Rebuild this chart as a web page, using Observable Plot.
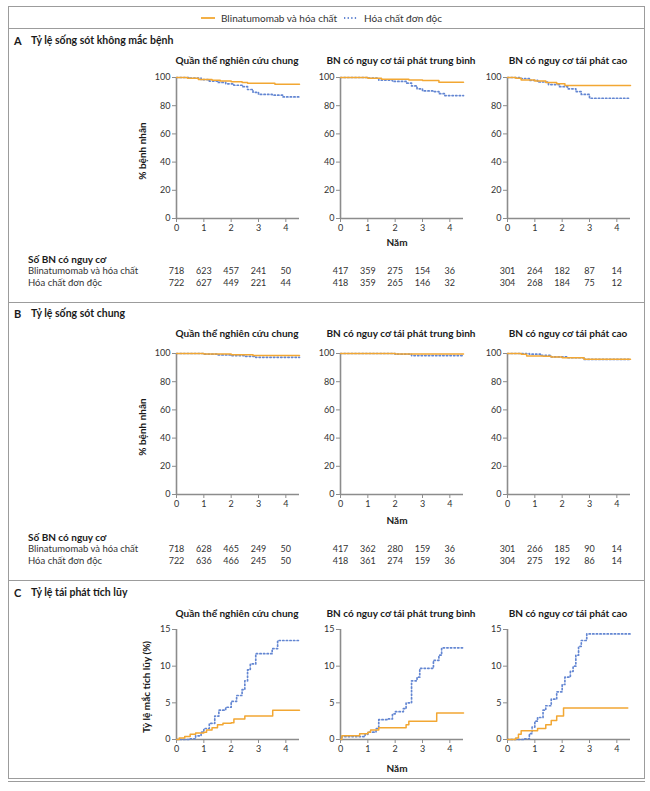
<!DOCTYPE html>
<html>
<head>
<meta charset="utf-8">
<script src="https://cdn.jsdelivr.net/npm/d3@7"></script>
<script src="https://cdn.jsdelivr.net/npm/@observablehq/plot@0.6"></script>
<style>
  body { margin: 0; background: #fff; }
  #root { position: relative; width: 650px; height: 791px; overflow: hidden;
          font-family: Lato, "Open Sans", sans-serif; color: #1a1a1a; }
  .abs { position: absolute; white-space: nowrap; line-height: 1; }
  .plotbox { position: absolute; }
  .line { position: absolute; background: #9c9c9c; }
</style>
</head>
<body>
<div id="root"></div>
<script>
// ---------------- DATA ----------------
const seriesNames = ["Blinatumomab và hóa chất", "Hóa chất đơn độc"];
const panelLetters = ["A", "B", "C"];
const panelTitles = ["Tỷ lệ sống sót không mắc bệnh", "Tỷ lệ sống sót chung", "Tỷ lệ tái phát tích lũy"];
const subgroupTitles = ["Quần thể nghiên cứu chung", "BN có nguy cơ tái phát trung bình", "BN có nguy cơ tái phát cao"];
const yLabelSurvival = "% bệnh nhân";
const yLabelIncidence = "Tỷ lệ mắc tích lũy (%)";
const xLabel = "Năm";
const riskHeader = "Số BN có nguy cơ";
const xTicks = [0, 1, 2, 3, 4];
const survivalTicks = [0, 20, 40, 60, 80, 100];
const incidenceTicks = [0, 5, 10, 15];
const riskYears = [0, 1, 2, 3, 4];

// Panel A: disease-free survival  [year, %]
const dfsAllBlina  = [[0,100],[0.4,99.5],[0.8,98.5],[1.3,98],[1.6,97.5],[2.0,97],[2.4,96.5],[2.6,96],[3.6,95.3],[4.5,95.3]];
const dfsAllChemo  = [[0,100],[0.5,99.5],[0.9,98.5],[1.2,97.5],[1.5,96.5],[1.8,95.5],[2.1,94.5],[2.4,93.5],[2.6,91.5],[2.8,89.5],[3.0,88],[3.5,87.5],[3.9,86.2],[4.5,86.2]];
const dfsIntBlina  = [[0,100],[1.0,99.5],[1.5,98.8],[2.5,98.3],[3.0,97.8],[3.6,96.7],[4.5,96.7]];
const dfsIntChemo  = [[0,100],[1.0,99.5],[1.4,98.2],[1.9,97.2],[2.4,96],[2.6,94],[2.8,92],[3.0,90.5],[3.4,90],[3.6,88.5],[3.8,87.2],[4.5,87.2]];
const dfsHighBlina = [[0,100],[0.3,99.5],[0.5,98.3],[1.0,97.5],[1.4,96.5],[1.8,95.5],[2.1,94.3],[4.5,94.3]];
const dfsHighChemo = [[0,100],[0.5,99.3],[0.8,98],[1.1,96.8],[1.5,95],[1.9,93.5],[2.2,92],[2.5,90],[2.7,88],[3.0,85.3],[4.5,85.3]];

// Panel B: overall survival  [year, %]
const osAllBlina   = [[0,100],[1.0,99.6],[2.0,99.1],[2.8,98.5],[4.5,98.5]];
const osAllChemo   = [[0,100],[1.0,99.5],[1.5,99],[2.0,98.5],[2.5,98],[2.9,97.3],[4.5,97.3]];
const osIntBlina   = [[0,100],[2.0,99.6],[4.5,99.6]];
const osIntChemo   = [[0,100],[2.0,99.5],[2.6,98.5],[4.5,98.5]];
const osHighBlina  = [[0,100],[0.5,99.5],[0.7,98.2],[1.3,98],[1.6,97.5],[2.0,97],[2.8,96],[4.5,96]];
const osHighChemo  = [[0,100],[0.8,99.5],[1.2,98.6],[1.6,97.6],[2.2,97],[2.8,95.8],[4.5,95.8]];

// Panel C: cumulative incidence of relapse  [year, %]
const ciAllBlina   = [[0,0],[0.1,0.2],[0.3,0.4],[0.5,0.7],[0.7,0.9],[1.0,1.0],[1.1,1.3],[1.3,1.6],[1.5,2.0],[1.7,2.2],[2.0,2.3],[2.1,2.8],[2.5,3.2],[3.5,3.2],[3.52,4.0],[4.5,4.0]];
const ciAllChemo   = [[0,0],[0.5,0.1],[0.7,0.5],[0.9,1.0],[1.0,1.5],[1.2,2.2],[1.4,3.2],[1.55,4.0],[1.8,4.4],[2.0,5.2],[2.2,6.0],[2.4,6.8],[2.5,8.0],[2.6,9.5],[2.7,10.3],[2.9,11.7],[3.4,11.7],[3.5,12.4],[3.7,13.5],[4.5,13.5]];
const ciIntBlina   = [[0,0],[0.05,0.5],[0.7,0.8],[1.0,1.0],[1.1,1.3],[1.4,1.6],[2.3,1.6],[2.4,2.0],[2.5,2.5],[3.5,2.5],[3.52,3.6],[4.5,3.6]];
const ciIntChemo   = [[0,0],[0.05,0.4],[0.9,0.7],[1.0,1.0],[1.3,1.5],[1.4,2.7],[1.7,2.8],[1.9,3.5],[2.0,3.8],[2.3,4.2],[2.4,5.0],[2.6,8.0],[2.8,8.5],[2.9,9.7],[3.3,9.7],[3.4,10.8],[3.6,11.5],[3.7,12.5],[4.5,12.5]];
const ciHighBlina  = [[0,0],[0.3,0.2],[0.4,0.7],[0.5,1.2],[1.0,1.2],[1.1,1.5],[1.4,2.0],[1.6,2.6],[1.8,3.2],[2.0,3.2],[2.05,4.3],[4.4,4.3]];
const ciHighChemo  = [[0,0],[0.6,0.1],[0.8,0.8],[0.9,1.7],[1.0,2.5],[1.1,3.0],[1.3,4.0],[1.4,4.6],[1.6,5.5],[1.8,6.5],[2.0,7.5],[2.1,8.5],[2.3,9.3],[2.4,10.0],[2.5,11.5],[2.6,12.7],[2.7,13.5],[2.9,14.4],[4.5,14.4]];

// Numbers at risk
const riskA_all_blina  = [718, 623, 457, 241, 50];
const riskA_all_chemo  = [722, 627, 449, 221, 44];
const riskA_int_blina  = [417, 359, 275, 154, 36];
const riskA_int_chemo  = [418, 359, 265, 146, 32];
const riskA_high_blina = [301, 264, 182, 87, 14];
const riskA_high_chemo = [304, 268, 184, 75, 12];
const riskB_all_blina  = [718, 628, 465, 249, 50];
const riskB_all_chemo  = [722, 636, 466, 245, 50];
const riskB_int_blina  = [417, 362, 280, 159, 36];
const riskB_int_chemo  = [418, 361, 274, 159, 36];
const riskB_high_blina = [301, 266, 185, 90, 14];
const riskB_high_chemo = [304, 275, 192, 86, 14];

// ---------------- STYLE ----------------
const ORANGE = "#f2a733";
const BLUE = "#6386d2";
const DOTS = "1.3 2.3";
const AXIS = "#8c8c8c";
const FONT = 'Lato, "Open Sans", sans-serif';
const root = document.getElementById("root");

function addText(s, x, y, {size = 10, weight = "normal", anchor = "start", rotate = false, color = "#1a1a1a"} = {}) {
  const d = document.createElement("div");
  d.className = "abs";
  d.textContent = s;
  d.style.fontSize = size + "px";
  d.style.fontWeight = weight;
  d.style.color = color;
  d.style.left = x + "px";
  d.style.top = y + "px";
  const tx = anchor === "middle" ? "-50%" : anchor === "end" ? "-100%" : "0";
  d.style.transform = `translate(${tx},-50%)` + (rotate ? " rotate(-90deg)" : "");
  root.appendChild(d);
}
function addLine(x, y, w, h) {
  const d = document.createElement("div");
  d.className = "line";
  Object.assign(d.style, {left: x + "px", top: y + "px", width: w + "px", height: h + "px"});
  root.appendChild(d);
}

// box frame
const BX0 = 8, BX1 = 644, BY0 = 6, BY1 = 778;
addLine(BX0, BY0, BX1 - BX0, 1.2);
addLine(BX0, BY1, BX1 - BX0 + 1, 1.2);
addLine(BX0, BY1 + 3, BX1 - BX0 + 1, 1);
addLine(BX0, BY0, 1.2, BY1 - BY0);
addLine(BX1, BY0, 1.2, BY1 - BY0);
addLine(BX0, 28, BX1 - BX0, 1.2);
addLine(BX0, 302, BX1 - BX0, 1.2);
addLine(BX0, 580, BX1 - BX0, 1.2);

// legend
(function legend() {
  const y = 18;
  const svgNS = "http://www.w3.org/2000/svg";
  function sw(x, color, dash) {
    const s = document.createElementNS(svgNS, "svg");
    s.setAttribute("width", 16); s.setAttribute("height", 6);
    s.style.position = "absolute"; s.style.left = x + "px"; s.style.top = (y - 3) + "px";
    const l = document.createElementNS(svgNS, "line");
    l.setAttribute("x1", 1); l.setAttribute("x2", 15); l.setAttribute("y1", 3); l.setAttribute("y2", 3);
    l.setAttribute("stroke", color); l.setAttribute("stroke-width", 1.8);
    if (dash) l.setAttribute("stroke-dasharray", dash);
    s.appendChild(l);
    root.appendChild(s);
  }
  sw(200, ORANGE, null);
  addText(seriesNames[0], 221, y, {size: 10, color: "#333"});
  sw(343, BLUE, DOTS);
  addText(seriesNames[1], 364, y, {size: 10, color: "#333"});
})();

// chart geometry
const AX = [176, 340, 507];
const PW = 123;
const ML = 30, MR = 8, MT = 6, MB = 22;

function kmChart(xAxis, yTop, yBot, yDomain, yTicks, blina, chemo) {
  const h = yBot - yTop;
  const p = Plot.plot({
    width: ML + PW + MR, height: MT + h + MB,
    marginLeft: ML, marginRight: MR, marginTop: MT, marginBottom: MB,
    style: {fontFamily: FONT, fontSize: "9px", color: "#333", background: "transparent", overflow: "visible"},
    x: {domain: [0, 4.5]},
    y: {domain: yDomain},
    marks: [
      Plot.ruleX([0], {stroke: AXIS, strokeWidth: 1.6}),
      Plot.ruleY([yDomain[0]], {stroke: AXIS, strokeWidth: 1.6}),
      Plot.axisY({ticks: yTicks, tickSize: 4, tickPadding: 2, stroke: AXIS, label: null}),
      Plot.axisX({ticks: xTicks, tickSize: 4, tickPadding: 2, stroke: AXIS, label: null, tickFormat: d => String(d)}),
      Plot.line(chemo, {x: d => d[0], y: d => d[1], curve: "step-after", stroke: BLUE, strokeWidth: 1.7, strokeDasharray: DOTS}),
      Plot.line(blina, {x: d => d[0], y: d => d[1], curve: "step-after", stroke: ORANGE, strokeWidth: 1.5})
    ]
  });
  const box = document.createElement("div");
  box.className = "plotbox";
  box.style.left = (xAxis - ML) + "px";
  box.style.top = (yTop - MT) + "px";
  box.appendChild(p);
  root.appendChild(box);
}

function riskTable(xAxis, rowY, rows) {
  const p = Plot.plot({
    width: ML + PW + MR, height: 24,
    marginLeft: ML, marginRight: MR, marginTop: 0, marginBottom: 0,
    style: {fontFamily: FONT, fontSize: "9px", color: "#333", background: "transparent", overflow: "visible"},
    x: {domain: [0, 4.5], axis: null},
    y: {domain: [0, 1], range: [5, 16.5], axis: null},
    marks: rows.map((r, i) => Plot.text(r, {x: (d, j) => riskYears[j], y: () => i, text: d => String(d), fill: "#333"}))
  });
  const box = document.createElement("div");
  box.className = "plotbox";
  box.style.left = (xAxis - ML) + "px";
  box.style.top = (rowY - 5) + "px";
  box.appendChild(p);
  root.appendChild(box);
}

// ---------------- PANELS ----------------
const panels = [
  {letter: 0, headY: 40, subY: 60, top: 77, bot: 218, yDomain: [0, 100], ticks: survivalTicks, yLabel: yLabelSurvival, yLabelX: 142, namY: 242,
   curves: [[dfsAllBlina, dfsAllChemo], [dfsIntBlina, dfsIntChemo], [dfsHighBlina, dfsHighChemo]],
   risk: {hdrY: 259, rowY: 271, rows: [[riskA_all_blina, riskA_all_chemo], [riskA_int_blina, riskA_int_chemo], [riskA_high_blina, riskA_high_chemo]]}},
  {letter: 1, headY: 313, subY: 333, top: 353, bot: 494, yDomain: [0, 100], ticks: survivalTicks, yLabel: yLabelSurvival, yLabelX: 142, namY: 520,
   curves: [[osAllBlina, osAllChemo], [osIntBlina, osIntChemo], [osHighBlina, osHighChemo]],
   risk: {hdrY: 537, rowY: 549, rows: [[riskB_all_blina, riskB_all_chemo], [riskB_int_blina, riskB_int_chemo], [riskB_high_blina, riskB_high_chemo]]}},
  {letter: 2, headY: 592, subY: 613, top: 629, bot: 739, yDomain: [0, 15], ticks: incidenceTicks, yLabel: yLabelIncidence, yLabelX: 146, namY: 768,
   curves: [[ciAllBlina, ciAllChemo], [ciIntBlina, ciIntChemo], [ciHighBlina, ciHighChemo]], risk: null}
];

for (const pn of panels) {
  addText(panelLetters[pn.letter], 14, pn.headY, {size: 11, weight: "bold"});
  addText(panelTitles[pn.letter], 31, pn.headY, {size: 10.5, weight: "bold"});
  for (let k = 0; k < 3; k++) {
    addText(subgroupTitles[k], AX[k] + 61, pn.subY, {size: 10, weight: "bold", anchor: "middle"});
    kmChart(AX[k], pn.top, pn.bot, pn.yDomain, pn.ticks, pn.curves[k][0], pn.curves[k][1]);
  }
  addText(pn.yLabel, pn.yLabelX, (pn.top + pn.bot) / 2 + 3, {size: 10, weight: "bold", anchor: "middle", rotate: true});
  addText(xLabel, 397, pn.namY, {size: 10, weight: "bold", anchor: "middle"});
  if (pn.risk) {
    addText(riskHeader, 28, pn.risk.hdrY, {size: 10, weight: "bold"});
    addText(seriesNames[0], 28, pn.risk.rowY, {size: 9.5, color: "#333"});
    addText(seriesNames[1], 28, pn.risk.rowY + 11.5, {size: 9.5, color: "#333"});
    for (let k = 0; k < 3; k++) riskTable(AX[k], pn.risk.rowY, pn.risk.rows[k]);
  }
}
</script>
</body>
</html>
